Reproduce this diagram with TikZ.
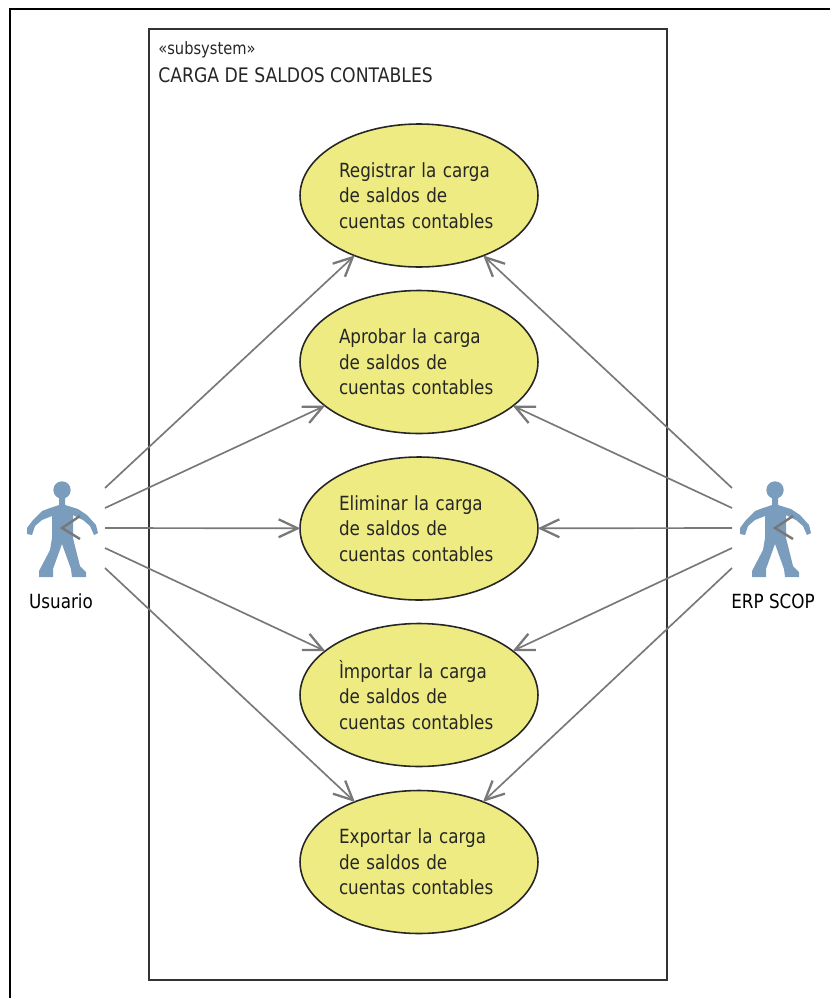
\documentclass[tikz,border=0pt]{standalone}
\usepackage{fontspec}
\setmainfont{DejaVu Sans}[FakeStretch=0.86]
\usepackage{tikz}
\usetikzlibrary{arrows.meta,shapes.geometric,positioning}
\definecolor{usecasefill}{HTML}{EDEB82}
\definecolor{actorblue}{HTML}{7B9DBD}
\definecolor{linkgray}{HTML}{787878}
\tikzset{
	usecase/.style={ellipse, draw=black!85, line width=0.9pt, fill=usecasefill, minimum width=4.76cm, minimum height=2.86cm,
		inner sep=0pt, text width=3.2cm, align=left, text=black!85, font=\fontsize{11.1}{14.5}\selectfont},
	link/.style={draw=linkgray, line width=0.95pt, shorten >=-0.6pt, -{Straight Barb[length=10.8pt,width=10.2pt,line width=1.3pt]}},
	actorname/.style={font=\fontsize{11.1}{14.5}\selectfont},
	actorfig/.pic={
		\fill [actorblue] (0,-38) circle (8.7);
		\fill [actorblue] (-3,-32) -- (-3,-23) -- (-12,-20) -- (-20,-17) -- (-29,-8) -- (-35,0) -- (-35,6) -- (-30,7) -- (-27,-2) -- (-20,-8) -- (-10,-12)
			-- (-10,10) -- (-12,22) -- (-23,43) -- (-23,49) -- (-9,49) -- (-9,41) -- (0,16) -- (9,41) -- (10,49) -- (24,49) -- (24,44) -- (18,38) -- (11,10)
			-- (11,-13) -- (21,-8) -- (28,-2) -- (32,7) -- (36,5) -- (34,-3) -- (25,-13) -- (16,-19) -- (3,-23) -- (3,-32) -- cycle;
		\draw [linkgray, line width=1.4pt] (18,-12) -- (0,0) -- (18,11);
	}
}
\begin{document}
\begin{tikzpicture}[x=0.02cm, y=-0.02cm]
	\useasboundingbox (0,0) rectangle (830,998);
	\draw [line width=1.1pt, black] (830,9) -- (10,9) -- (10,998);
	\draw [line width=0.85pt, black!80] (149,29) rectangle (667,980);
	
	\node [anchor=base west, inner sep=0pt, font=\fontsize{9.7}{11}\selectfont, text=black!85] (stereo) at (158,54) {«subsystem»};
	\node [anchor=base west, inner sep=0pt, font=\fontsize{11.4}{13}\selectfont, text=black!85] (title) at (158,82) {CARGA DE SALDOS CONTABLES};
	
	\node [usecase] (registrar) at (419,195.5) {Registrar la carga\\de saldos de\\cuentas contables};
	\node [usecase] (aprobar) at (419,362) {Aprobar la carga\\de saldos de\\cuentas contables};
	\node [usecase] (eliminar) at (419,528.5) {Eliminar la carga\\de saldos de\\cuentas contables};
	\node [usecase] (importar) at (419,695) {Ìmportar la carga\\de saldos de\\cuentas contables};
	\node [usecase] (exportar) at (419,862) {Exportar la carga\\de saldos de\\cuentas contables};
	
	\pic at (62,528) {actorfig};
	\pic at (775,528) {actorfig};
	\node [actorname] (usuario) at (61,601) {Usuario};
	\node [actorname] (erp) at (773,601) {ERP SCOP};
	
	\foreach \name/\ypos/\target in {1/488/registrar, 2/508/aprobar, 3/528/eliminar, 4/548/importar, 5/568/exportar} {
		\coordinate (usuario\name) at (105,\ypos);
		\coordinate (erp\name) at (732,\ypos);
		\draw [link] (usuario\name) -- (\target);
		\draw [link] (erp\name) -- (\target);
	}
\end{tikzpicture}
\end{document}
